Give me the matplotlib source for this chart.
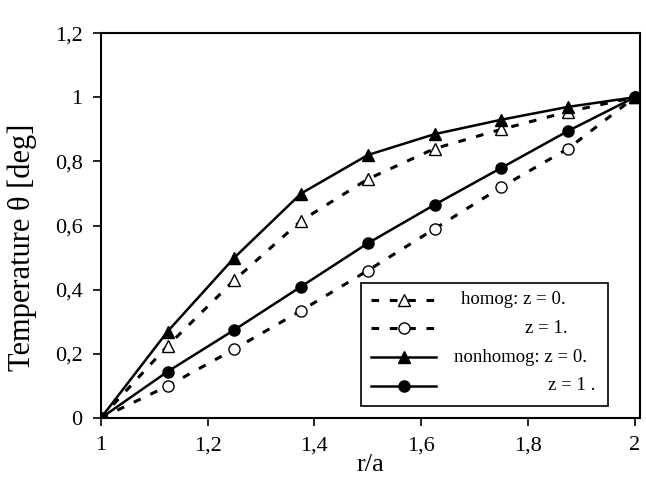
import matplotlib
matplotlib.use("Agg")
import matplotlib.pyplot as plt

# data
r = [1.0, 1.125, 1.25, 1.375, 1.5, 1.625, 1.75, 1.875, 2.0]
homog_z0 = [0, 0.225, 0.43, 0.615, 0.745, 0.84, 0.90, 0.955, 1.0]
homog_z1 = [0, 0.10, 0.215, 0.335, 0.46, 0.59, 0.72, 0.84, 1.0]
nonhomog_z0 = [0, 0.27, 0.50, 0.70, 0.82, 0.885, 0.93, 0.97, 1.0]
nonhomog_z1 = [0, 0.145, 0.275, 0.41, 0.545, 0.665, 0.78, 0.895, 1.0]

labels = ["homog: z = 0.", "z = 1.", "nonhomog: z = 0.", "z = 1 ."]
label_right = [0.861, 0.865, 0.902, 0.917]   # right edge of each label, axes fraction

xticks = [1, 1.2, 1.4, 1.6, 1.8, 2]
xticklabels = ["1", "1,2", "1,4", "1,6", "1,8", "2"]
yticks = [0, 0.2, 0.4, 0.6, 0.8, 1.0, 1.2]
yticklabels = ["0", "0,2", "0,4", "0,6", "0,8", "1", "1,2"]

plt.rcParams["font.family"] = ["Liberation Serif", "DejaVu Serif"]

fig = plt.figure(figsize=(6.46, 4.79), dpi=100)
ax = fig.add_axes([0.156, 0.127, 0.835, 0.804])

dash = (0, (2.5, 3.5))
h1, = ax.plot(r, homog_z0, color="black", lw=2.2, linestyle=dash, marker="^",
              markersize=9, markerfacecolor="white", markeredgewidth=1.0)
h2, = ax.plot(r, homog_z1, color="black", lw=2.2, linestyle=dash, marker="o",
              markersize=8, markerfacecolor="white", markeredgewidth=1.0)
h3, = ax.plot(r, nonhomog_z0, color="black", lw=1.8, marker="^", markersize=9)
h4, = ax.plot(r, nonhomog_z1, color="black", lw=1.8, marker="o", markersize=8)

ax.set_xlim(1, 2.01)
ax.set_ylim(0, 1.2)
ax.set_xticks(xticks)
ax.set_xticklabels(xticklabels)
ax.set_yticks(yticks)
ax.set_yticklabels(yticklabels)
ax.tick_params(direction="out", length=6, width=1.2, labelsize=16, pad=7)
for s in ax.spines.values():
    s.set_linewidth(1.5)

ax.set_xlabel("r/a", fontsize=19)
ax.xaxis.set_label_coords(0.5, -0.092)
ax.set_ylabel("Temperature θ [deg]", fontsize=22)
ax.yaxis.set_label_coords(-0.118, 0.444)

# legend box with handles only; labels placed by hand (right-aligned like the original)
leg = ax.legend([h1, h2, h3, h4], [""] * 4, loc="lower right",
                bbox_to_anchor=(0.941, 0.031), fontsize=12.5,
                handlelength=3.75, handletextpad=9.3, fancybox=False,
                edgecolor="black", framealpha=1, borderpad=0.6,
                labelspacing=0.72, borderaxespad=0)
leg.get_frame().set_linewidth(1.2)

fig.canvas.draw()
renderer = fig.canvas.get_renderer()
inv = ax.transAxes.inverted()
for line, lab, xr in zip(leg.get_lines(), labels, label_right):
    bb = line.get_window_extent(renderer)
    yc = inv.transform((0, (bb.y0 + bb.y1) / 2))[1]
    ax.text(xr, yc, lab, transform=ax.transAxes, ha="right", va="center",
            fontsize=13.5, zorder=10)

fig.savefig("out.png", dpi=100)
